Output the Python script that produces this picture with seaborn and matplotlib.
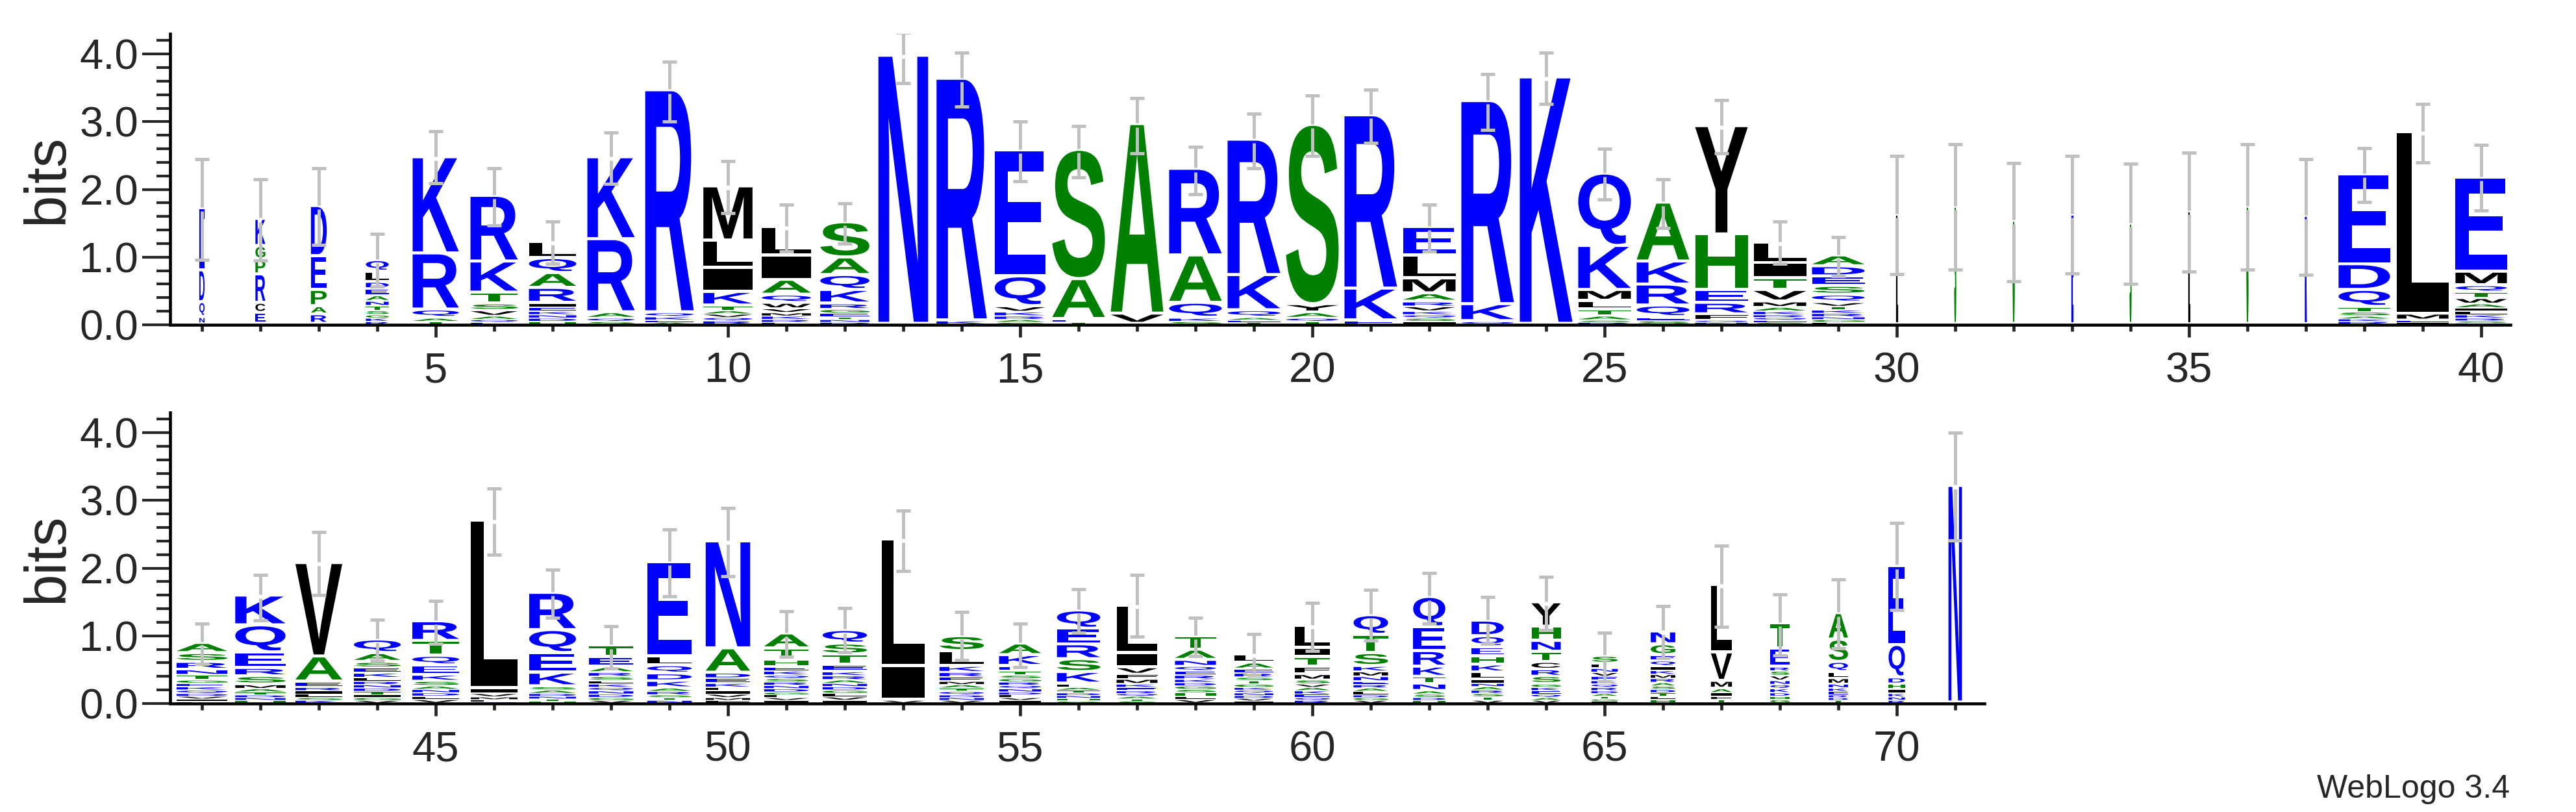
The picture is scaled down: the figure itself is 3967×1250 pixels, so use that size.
import numpy as np
import matplotlib
matplotlib.use("Agg")
import matplotlib.pyplot as plt
import seaborn as sns
from matplotlib.textpath import TextPath
from matplotlib.patches import PathPatch
from matplotlib.font_manager import FontProperties
from matplotlib.transforms import Affine2D
from matplotlib.ticker import MultipleLocator, FixedLocator

sns.set_style("ticks")
plt.rcParams['font.family'] = ['Liberation Sans', 'DejaVu Sans']

# ---------------- data (letters listed top -> bottom of each stack) ----------------
positions = list(range(1, 72))

stack_letters = [
    "EDQN", "KGPRCE", "DEPAR", "QLDEANTSGKR", "KRQAT", "RKTSVAQE", "LQARIEKNDH", "KRAQS",
    "RQKEA", "MLIKTAVQR", "LIAQWVMKRE", "SAQKRGETND", "N", "RK", "EQVKRAS", "SAET",
    "AV", "RAQKS", "RKQAET", "SYAQT", "RKE", "ELMARVKQSI", "RKQ", "K",
    "QKMLTASR", "AKRQES", "YHERFQN", "LITVMAKRQES", "ADESQVTKRNGL", "L", "S", "G",
    "E", "S", "L", "G", "K", "EDQTSAKR", "LMEI", "EMQTWAILKRSD",
    "ASRNTGEKQDVIL", "KQERSMATDNH", "VAERILSK", "QASEKLRNDTIGV", "RTQEKSANDLV", "LIVMFQ",
    "RQEKSADNTH", "TEARSLKQNDGV", "ELQDKARSTN", "NADEKLIVMF", "ATHEKQSRNDGLVI",
    "QSTEKRANDGLVI", "LIV", "SLKREMATQDNV", "AKETSGRQNDLVI", "QERSKLATDNHG",
    "LIVFMKERQATS", "TANQERKDGSHLV", "LAERSTGKQNDVI", "LITFMSVAKEQR", "QTSKMNERALDGV",
    "QERKTNASDH", "DQEHKLINARSTV", "YHNTCRSGKEQAV", "SLNVEKQRDATGI", "NGEQIKMRASDTLH",
    "LVMAIFT", "TERSVNQKDHG", "ASQLMNKERDT", "EQDHIKNR", "N",
]

stack_heights = [
    [0.92, 0.47, 0.22, 0.10],
    [0.40, 0.20, 0.22, 0.42, 0.15, 0.16],
    [0.74, 0.50, 0.24, 0.12, 0.14],
    [0.17, 0.15, 0.10, 0.10, 0.08, 0.07, 0.07, 0.06, 0.05, 0.05, 0.04],
    [1.42, 0.83, 0.12, 0.05, 0.04],
    [0.97, 0.46, 0.16, 0.10, 0.08, 0.05, 0.04, 0.03],
    [0.24, 0.22, 0.22, 0.22, 0.06, 0.06, 0.05, 0.05, 0.05, 0.04],
    [1.21, 1.08, 0.08, 0.05, 0.04],
    [3.28, 0.06, 0.05, 0.03, 0.03],
    [0.80, 0.40, 0.36, 0.20, 0.07, 0.05, 0.05, 0.05, 0.05],
    [0.42, 0.36, 0.22, 0.12, 0.08, 0.06, 0.05, 0.05, 0.04, 0.03],
    [0.52, 0.26, 0.22, 0.20, 0.08, 0.06, 0.05, 0.04, 0.04, 0.03],
    [3.96],
    [3.57, 0.05],
    [1.86, 0.44, 0.08, 0.06, 0.05, 0.04, 0.03],
    [1.91, 0.59, 0.04, 0.03],
    [2.80, 0.15],
    [1.28, 0.70, 0.22, 0.05, 0.04],
    [2.00, 0.52, 0.10, 0.04, 0.03, 0.03],
    [2.65, 0.12, 0.08, 0.05, 0.04],
    [2.56, 0.47, 0.05],
    [0.42, 0.34, 0.22, 0.12, 0.07, 0.07, 0.05, 0.05, 0.05, 0.04],
    [3.00, 0.25, 0.04],
    [3.64],
    [1.07, 0.65, 0.16, 0.13, 0.09, 0.06, 0.03, 0.03],
    [0.87, 0.34, 0.31, 0.17, 0.05, 0.05],
    [1.60, 0.82, 0.19, 0.17, 0.08, 0.03, 0.03],
    [0.30, 0.23, 0.17, 0.17, 0.08, 0.06, 0.05, 0.04, 0.04, 0.03, 0.03],
    [0.16, 0.15, 0.14, 0.13, 0.11, 0.06, 0.05, 0.05, 0.05, 0.04, 0.04, 0.03],
    [1.61], [1.73], [1.52], [1.61], [1.48], [1.66], [1.73], [1.59],
    [1.33, 0.38, 0.25, 0.07, 0.06, 0.04, 0.04, 0.04],
    [2.68, 0.09, 0.03, 0.03],
    [1.39, 0.20, 0.10, 0.09, 0.08, 0.06, 0.05, 0.05, 0.05, 0.04, 0.03, 0.02],
    [0.15, 0.13, 0.11, 0.08, 0.07, 0.05, 0.05, 0.05, 0.05, 0.04, 0.04, 0.04, 0.02],
    [0.44, 0.40, 0.23, 0.12, 0.12, 0.06, 0.05, 0.04, 0.04, 0.04, 0.04],
    [1.38, 0.37, 0.08, 0.05, 0.05, 0.05, 0.04, 0.04],
    [0.20, 0.13, 0.08, 0.08, 0.07, 0.05, 0.05, 0.05, 0.05, 0.05, 0.04, 0.04, 0.04],
    [0.29, 0.22, 0.14, 0.14, 0.09, 0.07, 0.05, 0.05, 0.05, 0.05, 0.05],
    [2.48, 0.07, 0.05, 0.04, 0.03, 0.02],
    [0.55, 0.34, 0.29, 0.20, 0.05, 0.05, 0.04, 0.04, 0.03, 0.03],
    [0.17, 0.14, 0.08, 0.06, 0.06, 0.05, 0.05, 0.05, 0.05, 0.05, 0.04, 0.04],
    [1.39, 0.13, 0.12, 0.11, 0.10, 0.05, 0.05, 0.04, 0.04, 0.04],
    [1.58, 0.36, 0.08, 0.07, 0.06, 0.05, 0.05, 0.05, 0.04, 0.04],
    [0.22, 0.17, 0.10, 0.06, 0.06, 0.05, 0.05, 0.05, 0.05, 0.05, 0.04, 0.04, 0.04, 0.04],
    [0.20, 0.16, 0.15, 0.10, 0.06, 0.06, 0.05, 0.05, 0.05, 0.05, 0.05, 0.05, 0.04],
    [1.87, 0.50, 0.04],
    [0.22, 0.22, 0.09, 0.07, 0.06, 0.05, 0.05, 0.05, 0.05, 0.04, 0.04, 0.04],
    [0.17, 0.16, 0.07, 0.06, 0.05, 0.05, 0.05, 0.05, 0.05, 0.04, 0.04, 0.04, 0.04],
    [0.27, 0.23, 0.22, 0.19, 0.17, 0.05, 0.04, 0.04, 0.04, 0.04, 0.04, 0.03],
    [0.70, 0.21, 0.10, 0.07, 0.07, 0.05, 0.05, 0.04, 0.04, 0.04, 0.03, 0.03],
    [0.20, 0.15, 0.09, 0.07, 0.06, 0.06, 0.05, 0.05, 0.05, 0.05, 0.05, 0.05, 0.05],
    [0.12, 0.09, 0.06, 0.06, 0.05, 0.05, 0.05, 0.04, 0.04, 0.04, 0.04, 0.04, 0.03],
    [0.32, 0.14, 0.14, 0.11, 0.08, 0.06, 0.05, 0.05, 0.05, 0.05, 0.04, 0.04],
    [0.29, 0.27, 0.19, 0.08, 0.07, 0.07, 0.05, 0.05, 0.05, 0.05, 0.04, 0.04, 0.04],
    [0.45, 0.35, 0.23, 0.15, 0.10, 0.10, 0.05, 0.05, 0.04, 0.04],
    [0.23, 0.16, 0.14, 0.12, 0.11, 0.10, 0.06, 0.05, 0.05, 0.05, 0.05, 0.05, 0.04],
    [0.36, 0.21, 0.16, 0.15, 0.11, 0.10, 0.11, 0.05, 0.05, 0.05, 0.05, 0.04, 0.04],
    [0.11, 0.07, 0.06, 0.06, 0.06, 0.05, 0.05, 0.05, 0.04, 0.04, 0.04, 0.03, 0.03],
    [0.19, 0.16, 0.08, 0.08, 0.06, 0.06, 0.06, 0.06, 0.05, 0.05, 0.05, 0.05, 0.05, 0.05],
    [1.00, 0.42, 0.11, 0.06, 0.05, 0.05, 0.05],
    [0.37, 0.27, 0.06, 0.07, 0.07, 0.06, 0.06, 0.06, 0.05, 0.05, 0.05],
    [0.39, 0.33, 0.15, 0.09, 0.08, 0.06, 0.05, 0.05, 0.04, 0.04, 0.04],
    [1.17, 0.48, 0.09, 0.08, 0.06, 0.05, 0.05, 0.04],
    [3.20],
]

# relative stack width (fraction of non-gap sequences)
stack_widths = [
    0.09, 0.17, 0.27, 0.39, 0.79, 0.81, 0.81, 0.81, 0.83, 0.84, 0.84, 0.84, 0.85, 0.86, 0.87,
    0.90, 0.90, 0.90, 0.90, 0.90, 0.90, 0.90, 0.90, 0.90, 0.90, 0.90, 0.90, 0.90, 0.90,
    0.02, 0.02, 0.02, 0.02, 0.02, 0.02, 0.02, 0.02,
    0.88, 0.88, 0.88,
    0.87, 0.86, 0.80, 0.80, 0.80, 0.80, 0.80, 0.76, 0.76, 0.76, 0.76, 0.76, 0.74, 0.76,
    0.72, 0.74, 0.70, 0.70, 0.66, 0.60, 0.59, 0.55, 0.55, 0.50, 0.45, 0.42, 0.36, 0.33,
    0.33, 0.28, 0.23,
]

err_low = [
    0.96, 0.95, 1.18, 0.57, 2.09, 1.47, 0.90, 2.08, 3.00, 1.65, 1.08, 1.20, 3.57, 3.22,
    2.12, 2.18, 2.53, 1.93, 2.31, 2.50, 2.69, 1.08, 2.88, 3.26, 1.85, 1.43, 2.53, 0.90,
    0.72, 0.75, 0.82, 0.64, 0.76, 0.60, 0.79, 0.82, 0.74, 1.81, 2.40, 1.69,
    0.59, 1.23, 1.60, 0.63, 0.88, 2.20, 1.27, 0.52, 1.58, 1.88, 0.69, 0.76, 1.96, 0.64,
    0.54, 1.05, 0.99, 0.70, 0.42, 0.78, 0.93, 1.18, 0.88, 1.08, 0.33, 0.67, 1.13, 0.71,
    0.82, 1.38, 2.41,
]
err_high = [
    2.45, 2.15, 2.31, 1.34, 2.86, 2.31, 1.53, 2.84, 3.89, 2.42, 1.78, 1.79, 4.32, 4.02,
    3.00, 2.94, 3.35, 2.63, 3.12, 3.39, 3.47, 1.78, 3.70, 4.02, 2.60, 2.15, 3.32, 1.53,
    1.30, 2.50, 2.67, 2.39, 2.50, 2.38, 2.54, 2.67, 2.45, 2.61, 3.26, 2.66,
    1.18, 1.90, 2.53, 1.24, 1.52, 3.18, 1.98, 1.14, 2.57, 2.89, 1.36, 1.41, 2.85, 1.35,
    1.18, 1.69, 1.90, 1.27, 1.03, 1.49, 1.68, 1.93, 1.57, 1.87, 1.05, 1.44, 2.33, 1.61,
    1.83, 2.67, 4.00,
]

row_ranges = [(1, 40), (41, 71)]
major_ticks = [[5, 10, 15, 20, 25, 30, 35, 40], [45, 50, 55, 60, 65, 70]]

# hydrophobicity colour scheme
BLUE, GREEN, BLACK = "#0000FF", "#008000", "#000000"
color_of = {}
for c in "RKDENQ":
    color_of[c] = BLUE
for c in "SGHTAP":
    color_of[c] = GREEN
for c in "YVMCLFIW":
    color_of[c] = BLACK
ERR_COLOR = "#C0C0C0"

# ---------------- drawing helpers ----------------
FP = FontProperties(family="Liberation Sans", weight="bold")
_glyphs = {}


def glyph(ch):
    if ch not in _glyphs:
        tp = TextPath((0, 0), ch, size=1, prop=FP)
        _glyphs[ch] = (tp, tp.get_extents())
    return _glyphs[ch]


def draw_letter(ax, ch, x, y0, w, h):
    tp, bb = glyph(ch)
    gap = min(0.045, 0.35 * h)
    gh = h - gap
    if gh <= 0:
        return
    col = color_of[ch]
    tr = (Affine2D().translate(-bb.x0, -bb.y0)
          .scale(w / bb.width, gh / bb.height)
          .translate(x - w / 2.0, y0 + gap))
    if w < 0.05:
        # nearly-all-gap column: rendered as a hairline
        ax.add_patch(PathPatch(tr.transform_path(tp), fc=col, ec=col, lw=0.9, zorder=2))
    else:
        ax.add_patch(PathPatch(tr.transform_path(tp), fc=col, ec="none", lw=0, zorder=2))


# ---------------- figure ----------------
W, H = 3967, 1250
fig = plt.figure(figsize=(W / 100, H / 100), dpi=100)
px_per_bit = 104.2
ymax = 4.3
axes_rects = [
    [266 / W, 1 - 500 / H, 3600 / W, ymax * px_per_bit / H],
    [266 / W, 1 - 1083 / H, 2790 / W, ymax * px_per_bit / H],
]
ERR_LW = 3.6
CAP_HALF = 0.117     # half cap width, in position units
CENTER_GAP = 0.03    # small break in the error bar at the stack top

for row, (lo, hi) in enumerate(row_ranges):
    ax = fig.add_axes(axes_rects[row])
    tops, xs, lows, highs = [], [], [], []
    for p in range(lo, hi + 1):
        i = p - 1
        letters = stack_letters[i]
        hts = stack_heights[i]
        w = stack_widths[i]
        y = 0.0
        for ch, h in zip(letters[::-1], hts[::-1]):
            draw_letter(ax, ch, p, y, w, h)
            y += h
        xs.append(p)
        tops.append(y)
        lows.append(err_low[i])
        highs.append(err_high[i])
    xs = np.array(xs, float)
    tops = np.array(tops)
    lows = np.array(lows)
    highs = np.array(highs)
    # error bars: two halves meeting at the stack top, with caps
    ax.vlines(xs, tops + CENTER_GAP, highs, colors=ERR_COLOR, lw=ERR_LW, zorder=5)
    ax.vlines(xs, lows, tops - CENTER_GAP, colors=ERR_COLOR, lw=ERR_LW, zorder=5)
    ax.hlines(highs, xs - CAP_HALF, xs + CAP_HALF, colors=ERR_COLOR, lw=ERR_LW, zorder=5)
    ax.hlines(lows, xs - CAP_HALF, xs + CAP_HALF, colors=ERR_COLOR, lw=ERR_LW, zorder=5)

    ax.set_xlim(lo - 0.5, hi + 0.5)
    ax.set_ylim(0, ymax)
    sns.despine(ax=ax)
    for s in ("left", "bottom"):
        ax.spines[s].set_linewidth(3.3)
        ax.spines[s].set_color("black")
    ax.spines["left"].set_position(("outward", 3))

    ax.yaxis.set_major_locator(FixedLocator([0, 1, 2, 3, 4]))
    ax.set_yticklabels(["0.0", "1.0", "2.0", "3.0", "4.0"])
    ax.yaxis.set_minor_locator(MultipleLocator(0.2))
    ax.xaxis.set_major_locator(FixedLocator(major_ticks[row]))
    ax.set_xticklabels([str(t) for t in major_ticks[row]])
    ax.xaxis.set_minor_locator(FixedLocator(list(range(lo, hi + 1))))

    ax.tick_params(axis="y", which="major", length=31, width=3.0, labelsize=47, pad=4, direction="out")
    ax.tick_params(axis="y", which="minor", length=15, width=3.0, direction="out")
    ax.tick_params(axis="x", which="major", length=14, width=3.4, labelsize=47, pad=16, direction="out")
    ax.tick_params(axis="x", which="minor", length=7, width=3.4, direction="out")
    ax.set_ylabel("bits", fontsize=64, labelpad=5)
    ax.set_facecolor("white")

fig.text(3865 / W, 1 - 1215 / H, "WebLogo 3.4", ha="right", va="center", fontsize=36)
fig.savefig("out.png", dpi=100, facecolor="white")
